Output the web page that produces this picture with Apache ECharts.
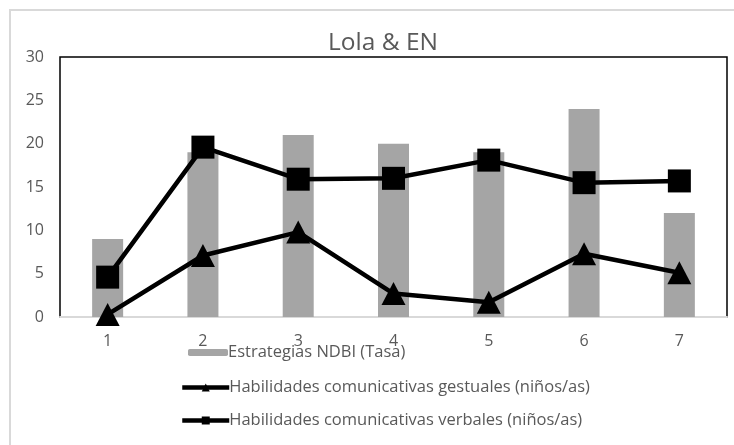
<!DOCTYPE html>
<html>
<head>
<meta charset="utf-8">
<script src="https://cdn.jsdelivr.net/npm/echarts@6/dist/echarts.min.js"></script>
<style>
  html, body { margin: 0; padding: 0; background: #fff; }
  #frame { position: absolute; left: 9px; top: 9px; width: 740px; height: 450px; border: 2px solid #d9d9d9; box-sizing: border-box; }
  #chart { position: absolute; left: 0; top: 0; width: 734px; height: 445px; }
</style>
</head>
<body>
<div id="frame"></div>
<div id="chart"></div>
<script>
// Sessions and measured values
const sessions = ['1', '2', '3', '4', '5', '6', '7'];
const ndbiRate = [9, 19, 21, 20, 19, 24, 12];
const gesturalSkills = [0.3, 7.1, 9.8, 2.7, 1.7, 7.3, 5.1];
const verbalSkills = [4.6, 19.6, 15.9, 16.0, 18.1, 15.5, 15.7];

const seriesNames = [
  'Estrategias NDBI (Tasa)',
  'Habilidades comunicativas gestuales (niños/as)',
  'Habilidades comunicativas verbales (niños/as)'
];

const FONT = '"Open Sans", "Noto Sans", sans-serif';
const TEXT = '#595959';

const chart = echarts.init(document.getElementById('chart'), null, { renderer: 'canvas' });

chart.setOption({
  animation: false,
  backgroundColor: 'transparent',
  title: {
    text: 'Lola & EN',
    left: 378,
    textAlign: 'center',
    top: 26,
    textStyle: { fontFamily: FONT, fontSize: 24.5, fontWeight: 'normal', color: TEXT }
  },
  grid: {
    left: 60, right: 7, top: 57, bottom: 128,
    show: true, borderColor: '#000', borderWidth: 1.5, backgroundColor: 'transparent'
  },
  legend: [
    {
      data: [seriesNames[0]],
      orient: 'vertical', left: 183, top: 339,
      itemWidth: 40, itemHeight: 7, itemGap: 0,
      textStyle: { fontFamily: FONT, fontSize: 16.5, color: TEXT, padding: [0, 0, 0, -5] }
    },
    {
      data: [seriesNames[1], seriesNames[2]],
      orient: 'vertical', left: 175, top: 374,
      itemWidth: 47, itemHeight: 10, itemGap: 16,
      lineStyle: { width: 4.5 },
      textStyle: { fontFamily: FONT, fontSize: 16.5, color: TEXT, padding: [0, 0, 0, -5] }
    }
  ],
  xAxis: {
    type: 'category',
    data: sessions,
    axisLine: { show: true, lineStyle: { color: '#d9d9d9', width: 2 } },
    axisTick: { show: false },
    axisLabel: { fontFamily: FONT, fontSize: 16, color: TEXT, margin: 16 }
  },
  yAxis: {
    type: 'value',
    min: 0, max: 30, interval: 5,
    axisLine: { show: false },
    axisTick: { show: false },
    splitLine: { show: false },
    axisLabel: { fontFamily: FONT, fontSize: 16, color: TEXT, margin: 16 }
  },
  series: [
    {
      name: seriesNames[0],
      type: 'bar',
      data: ndbiRate,
      barWidth: 31,
      itemStyle: { color: '#a5a5a5' },
      z: 1
    },
    {
      name: seriesNames[1],
      type: 'line',
      data: gesturalSkills,
      symbol: 'triangle',
      symbolSize: [24, 23],
      showSymbol: true,
      lineStyle: { color: '#000', width: 4.5 },
      itemStyle: { color: '#000' },
      z: 3
    },
    {
      name: seriesNames[2],
      type: 'line',
      data: verbalSkills,
      symbol: 'rect',
      symbolSize: 23,
      showSymbol: true,
      lineStyle: { color: '#000', width: 4.5 },
      itemStyle: { color: '#000' },
      z: 3
    }
  ]
});
</script>
</body>
</html>
